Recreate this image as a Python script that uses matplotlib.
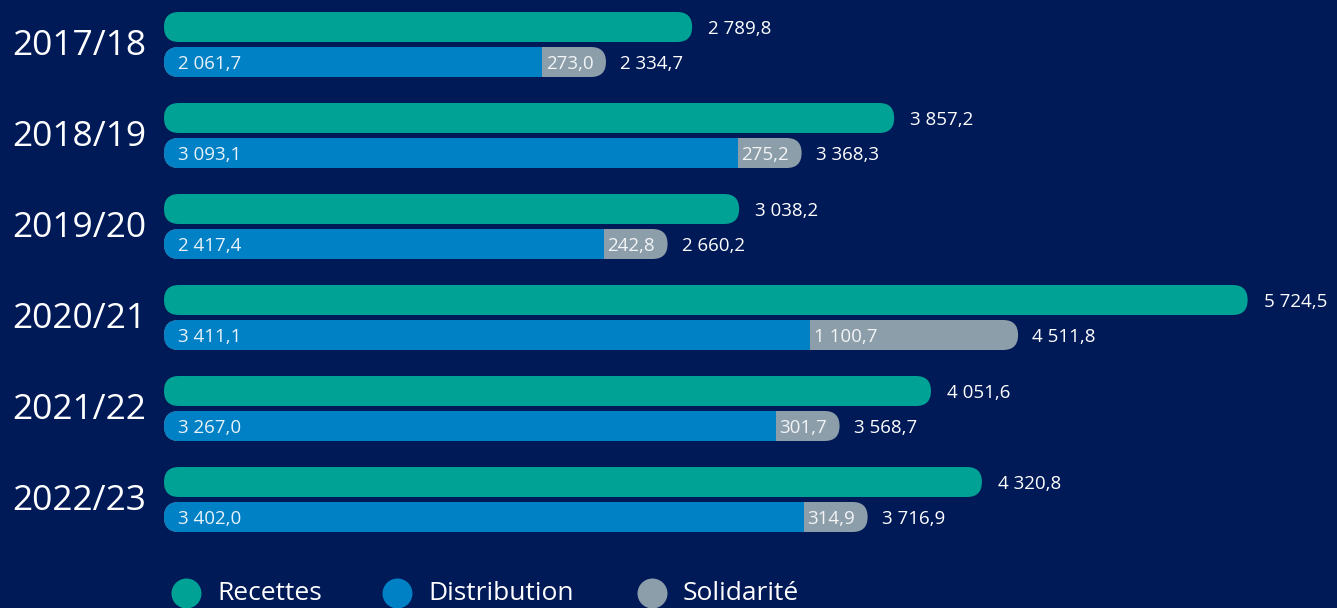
import matplotlib
matplotlib.use("Agg")
import matplotlib.pyplot as plt
from matplotlib.patches import FancyBboxPatch, Rectangle

# ---- data ----
years = ["2017/18", "2018/19", "2019/20", "2020/21", "2021/22", "2022/23"]
recettes = [2789.8, 3857.2, 3038.2, 5724.5, 4051.6, 4320.8]
distribution = [2061.7, 3093.1, 2417.4, 3411.1, 3267.0, 3402.0]
solidarite = [273.0, 275.2, 242.8, 1100.7, 301.7, 314.9]
series_names = ["Recettes", "Distribution", "Solidarité"]

# ---- style ----
BG = "#001957"
C_REC = "#00a295"
C_DIS = "#0080c5"
C_SOL = "#8c9ea9"
WHITE = "#ffffff"
plt.rcParams["font.family"] = ["Open Sans", "DejaVu Sans"]

W, H = 1337, 608
fig = plt.figure(figsize=(W / 100, H / 100), dpi=100, facecolor=BG)
ax = fig.add_axes([0, 0, 1, 1])
ax.set_facecolor(BG)
ax.axis("off")

x0_px = 164.0          # pixel where bars start
ppu = 0.1893           # pixels per unit
ax.set_xlim(-x0_px / ppu, (W - x0_px) / ppu)
ax.set_ylim(H, 0)      # y axis in pixels, top-down

bar_h = 30.0
r = bar_h / 2 / ppu     # rounding radius in x units
row_pitch = 91.0
first_green = 27.0
gap = 35.0
min_grey_px = 64.0


def fmt(v):
    s = f"{v:,.1f}"
    return s.replace(",", " ").replace(".", ",")


def pill(x_end, yc, color, z):
    p = FancyBboxPatch((0, yc - bar_h / 2), x_end, bar_h,
                       boxstyle=f"round,pad=0,rounding_size={r * 0.999}",
                       mutation_aspect=ppu, linewidth=0, facecolor=color,
                       zorder=z)
    ax.add_patch(p)


def label(x, y, text, dx_px, size, color=WHITE, ha="left"):
    ax.annotate(text, xy=(x, y), xytext=(dx_px * 0.72, -7 * 0.72),
                textcoords="offset points", ha=ha, va="baseline",
                fontsize=size, color=color, zorder=5)


for i, yr in enumerate(years):
    yg = first_green + i * row_pitch
    yb = yg + gap
    rec, dis, sol = recettes[i], distribution[i], solidarite[i]
    total = dis + sol

    # Recettes bar
    pill(rec, yg, C_REC, 2)
    label(rec, yg, fmt(rec), 16, 13.5)

    # Solidarité (full pill to total), Distribution on top
    pill(total, yb, C_SOL, 2)
    grey_start = min(dis, total - min_grey_px / ppu)
    pill(grey_start, yb, C_DIS, 3)
    ax.add_patch(Rectangle((grey_start - r, yb - bar_h / 2), r, bar_h,
                           facecolor=C_DIS, linewidth=0, zorder=3))

    label(0, yb, fmt(dis), 14, 13.5, color="#e8f2fa")
    label(grey_start, yb, fmt(sol), 4, 13.5, color="#f2f4f6")
    label(total, yb, fmt(total), 14, 13.5)

    # year label
    mid = (yg + yb) / 2
    ax.text(12 / ppu - x0_px / ppu, mid + 10.5, yr, ha="left", va="baseline",
            fontsize=25.5, color=WHITE)

# ---- legend ----
leg_x_px = [186, 397, 652]
leg_colors = [C_REC, C_DIS, C_SOL]
for xp, name, col in zip(leg_x_px, series_names, leg_colors):
    xd = (xp - x0_px) / ppu
    ax.scatter([xd], [593], s=(30 * 0.72) ** 2, color=col, marker="o",
               linewidths=0, zorder=4, clip_on=False)
    ax.text(xd + 31 / ppu, 600, name, ha="left", va="baseline",
            fontsize=19, color=WHITE)

fig.savefig("out.png", dpi=100, facecolor=BG)
